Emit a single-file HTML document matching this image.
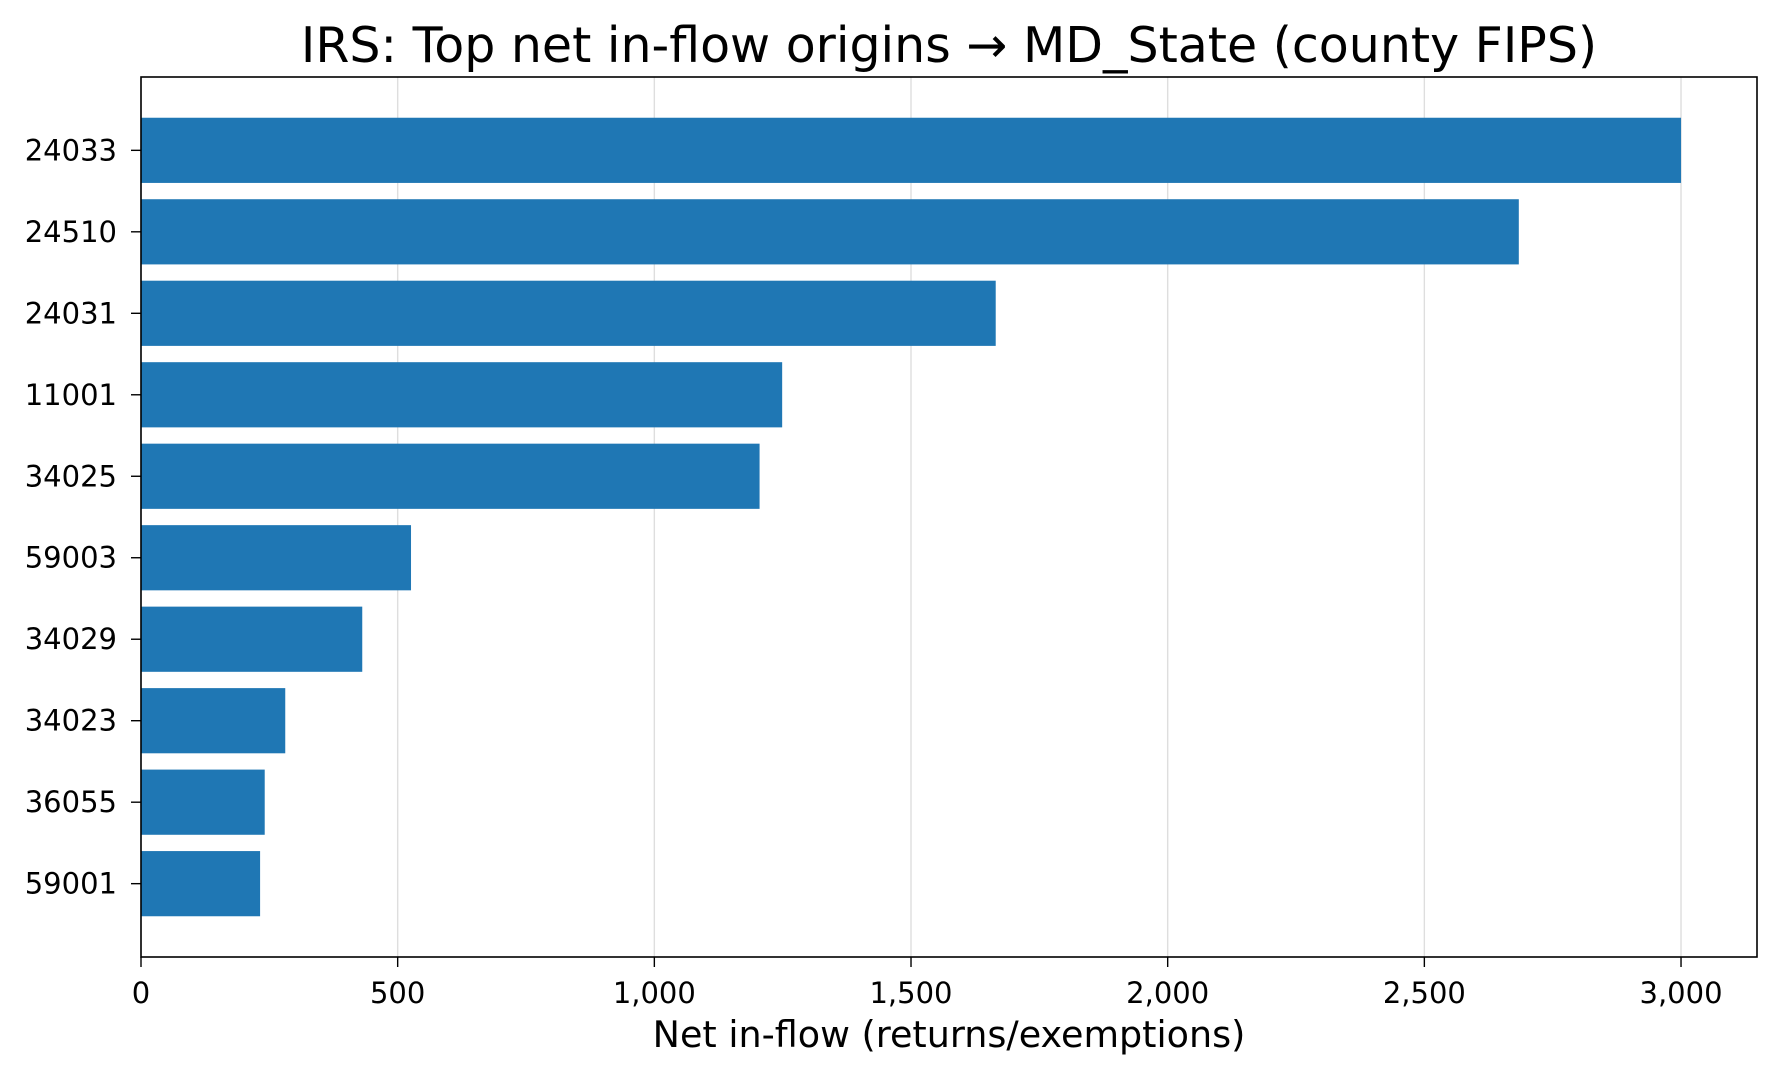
<!DOCTYPE html>
<html><head><meta charset="utf-8"><style>
html,body{margin:0;padding:0;background:#fff}
svg text{font-family:"DejaVu Sans","Liberation Sans",sans-serif;fill:#000}
</style></head><body>
<svg id="chart" width="1780" height="1079" viewBox="0 0 1780 1079" xmlns="http://www.w3.org/2000/svg">
<rect width="1780" height="1079" fill="#fff"/>
<text x="949" y="62" font-size="49" text-anchor="middle">IRS: Top net in-flow origins → MD_State (county FIPS)</text>
<g id="grid"></g><g id="bars"></g><g id="axes"></g>
<text x="949" y="1047" font-size="36.5" text-anchor="middle">Net in-flow (returns/exemptions)</text>
</svg>
<script>
const categories = ["24033","24510","24031","11001","34025","59003","34029","34023","36055","59001"];
const values = [3000,2684,1665,1249,1205,526,431,281,241,232];
const xTicks = [0,500,1000,1500,2000,2500,3000];
const xTickLabels = ["0","500","1,000","1,500","2,000","2,500","3,000"];

const L=141,R=1757,T=77,B=957,XMAX=3148;
const NS="http://www.w3.org/2000/svg";
const x=v=>L+(v/XMAX)*(R-L);
const step=(B-T)/(categories.length-1+1.8);
const y=i=>T+(0.9+i)*step;
const bh=0.8*step;
function mk(t,a,p){const e=document.createElementNS(NS,t);for(const k in a)e.setAttribute(k,a[k]);p.appendChild(e);return e;}
const grid=document.getElementById('grid'),bars=document.getElementById('bars'),axes=document.getElementById('axes');
xTicks.forEach((t,i)=>{
  const g=mk('line',{x1:x(t),x2:x(t),y1:T,y2:B,stroke:'#dedede','stroke-width':1.4},grid);
  
  
  const tk=mk('line',{x1:x(t),x2:x(t),y1:B,y2:B+10,stroke:'#000','stroke-width':1.4},axes);
  
  
  const tl=mk('text',{x:x(t),y:1003,'font-size':29,'text-anchor':'middle'},axes);
  tl.textContent=xTickLabels[i];
  
  
});
categories.forEach((c,i)=>{
  const r=mk('rect',{x:L,y:y(i)-bh/2,width:x(values[i])-L,height:bh,fill:'#1f77b4'},bars);
  
  
  const tk=mk('line',{x1:L-10,x2:L,y1:y(i),y2:y(i),stroke:'#000','stroke-width':1.4},axes);
  
  
  const tl=mk('text',{x:L-24,y:y(i)+10,'font-size':29,'text-anchor':'end'},axes);
  tl.textContent=c;
  
  
});
const f=mk('rect',{x:L,y:T,width:R-L,height:B-T,fill:'none',stroke:'#000','stroke-width':1.6},axes);


</script>
</body></html>
